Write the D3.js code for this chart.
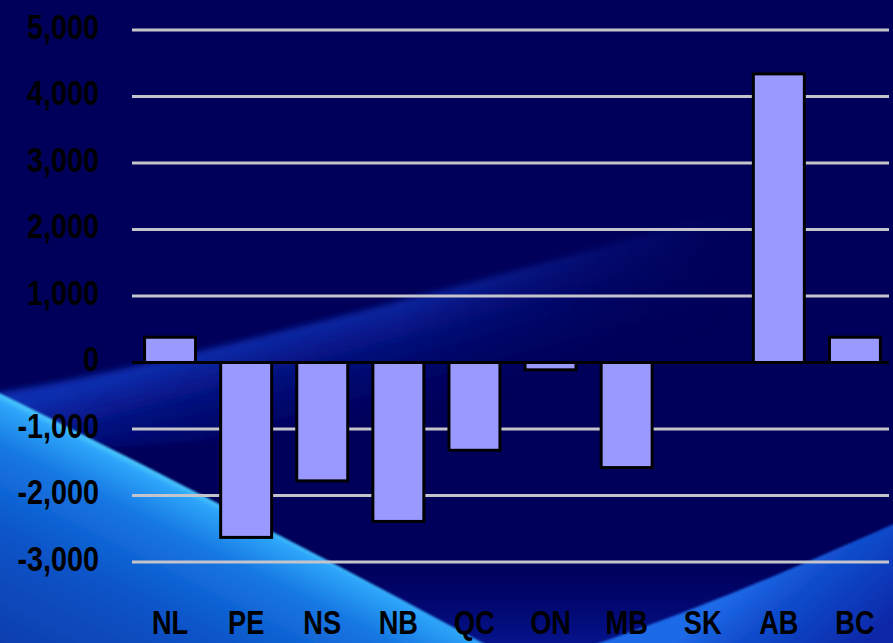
<!DOCTYPE html>
<html>
<head>
<meta charset="utf-8">
<script src="https://cdn.jsdelivr.net/npm/d3@7"></script>
<style>
  html, body { margin: 0; padding: 0; background: #00005a; overflow: hidden; }
  svg { display: block; }
</style>
</head>
<body>
<svg id="chart" width="893" height="643"></svg>
<script>
// Net interprovincial migration by province
const provinces = ["NL", "PE", "NS", "NB", "QC", "ON", "MB", "SK", "AB", "BC"];
const netMigration = [380, -2630, -1780, -2390, -1320, -110, -1580, 0, 4340, 380];
const yTicks = [5000, 4000, 3000, 2000, 1000, 0, -1000, -2000, -3000];
const yTickLabels = ["5,000", "4,000", "3,000", "2,000", "1,000", "0", "-1,000", "-2,000", "-3,000"];

const W = 893, H = 643;
const plot = { left: 132, right: 893, top: 30, bottom: 562, gridEnd: 889 };
const labelFont = "'Liberation Sans', Arial, sans-serif";
const condense = 0.8; // narrow the bold face horizontally

const svg = d3.select("#chart");
const defs = svg.append("defs");

// ---- backdrop ----
defs.append("filter").attr("id", "edge").attr("x", "-10%").attr("y", "-10%").attr("width", "120%").attr("height", "120%")
  .append("feGaussianBlur").attr("stdDeviation", 1.2);
defs.append("filter").attr("id", "haze").attr("x", "-10%").attr("y", "-20%").attr("width", "120%").attr("height", "140%")
  .append("feGaussianBlur").attr("stdDeviation", 3);

function linear(id, x1, y1, x2, y2, stops) {
  const g = defs.append("linearGradient").attr("id", id).attr("gradientUnits", "userSpaceOnUse")
    .attr("x1", x1).attr("y1", y1).attr("x2", x2).attr("y2", y2);
  stops.forEach(([o, c, a]) => g.append("stop").attr("offset", o).attr("stop-color", c)
    .attr("stop-opacity", a === undefined ? 1 : a));
}

linear("bandGrad", 300, 330, 330, 440, [[0, "#1236c0", 0.85], [0.35, "#0a24aa", 0.5], [1, "#040e88", 0]]);
linear("bandFade", 0, 0, W, 0, [[0, "#fff", 1], [0.45, "#fff", 0.8], [0.68, "#fff", 0.25], [0.82, "#fff", 0]]);
linear("sweepGrad", 240, 512, 128, 736, [[0, "#52d2ff"], [0.035, "#2ea6fa"], [0.2, "#1676e2"], [0.5, "#0c54c8"], [1, "#0838a8"]]);
linear("cornerGrad", 740, 585, 820, 680, [[0, "#1e6ae8"], [0.3, "#1250d0"], [1, "#0828a8"]]);
linear("floorGrad", 0, 560, 0, 643, [[0, "#020a80", 0], [1, "#061898", 0.8]]);

const mask = defs.append("mask").attr("id", "bandMask");
mask.append("rect").attr("width", W).attr("height", H).attr("fill", "url(#bandFade)");

const bg = svg.append("g").attr("class", "backdrop");
bg.append("rect").attr("width", W).attr("height", H).attr("fill", "#00005a");
// faint rising band behind the plot
bg.append("path")
  .attr("d", "M-10,394 C100,378 300,332 903,165 L903,320 C500,410 250,450 -10,450 Z")
  .attr("fill", "url(#bandGrad)").attr("mask", "url(#bandMask)").attr("filter", "url(#haze)");
// dim glow along the bottom
bg.append("rect").attr("x", 0).attr("y", 560).attr("width", W).attr("height", 83).attr("fill", "url(#floorGrad)");
// bright sweep from the left edge
bg.append("path")
  .attr("d", "M-5,391 C120,452 330,560 492,648 L-5,648 Z")
  .attr("fill", "url(#sweepGrad)").attr("filter", "url(#edge)");
// sweep in the lower right corner
bg.append("path")
  .attr("d", "M898,522 C820,556 720,602 585,648 L898,648 Z")
  .attr("fill", "url(#cornerGrad)").attr("filter", "url(#edge)");

// ---- scales ----
const x = d3.scaleBand().domain(provinces).range([plot.left, plot.right])
  .paddingInner(0.33).paddingOuter(0.165);
const y = d3.scaleLinear().domain([-3000, 5000]).range([plot.bottom, plot.top]);

// ---- gridlines ----
svg.append("g").attr("class", "grid")
  .selectAll("line").data(yTicks.filter(d => d !== 0)).join("line")
  .attr("x1", plot.left).attr("x2", plot.gridEnd)
  .attr("y1", d => y(d)).attr("y2", d => y(d))
  .attr("stroke", "#c4c4cc").attr("stroke-width", 3);

// ---- bars ----
svg.append("g").attr("class", "bars")
  .selectAll("rect").data(provinces.map((p, i) => ({ p, v: netMigration[i] })).filter(d => d.v !== 0))
  .join("rect")
  .attr("x", d => x(d.p))
  .attr("width", x.bandwidth())
  .attr("y", d => y(Math.max(0, d.v)))
  .attr("height", d => Math.abs(y(d.v) - y(0)))
  .attr("fill", "#9999ff").attr("stroke", "#000").attr("stroke-width", 3);

// ---- zero line ----
svg.append("line")
  .attr("x1", plot.left).attr("x2", plot.gridEnd)
  .attr("y1", y(0)).attr("y2", y(0))
  .attr("stroke", "#000").attr("stroke-width", 3);

// ---- y axis labels ----
const yAxis = d3.axisLeft(y).tickValues(yTicks)
  .tickFormat((d, i) => yTickLabels[i]).tickSize(0).tickPadding(0);
const yg = svg.append("g").attr("transform", "translate(99,0)").call(yAxis);
yg.select(".domain").remove();
yg.selectAll("text")
  .attr("fill", "#000").attr("font-family", labelFont).attr("font-weight", "bold")
  .attr("font-size", 36).attr("x", 0).attr("dy", null).attr("dominant-baseline", "auto")
  .attr("transform", `translate(0,8) scale(${condense},1)`);

// ---- category labels ----
const xAxis = d3.axisBottom(x).tickSize(0).tickPadding(0);
const xg = svg.append("g").attr("transform", "translate(0,634)").call(xAxis);
xg.select(".domain").remove();
xg.selectAll("text")
  .attr("fill", "#000").attr("font-family", labelFont).attr("font-weight", "bold")
  .attr("font-size", 34).attr("dy", null).attr("y", 0).attr("dominant-baseline", "auto")
  .attr("transform", `scale(${condense},1)`);
</script>
</body>
</html>
